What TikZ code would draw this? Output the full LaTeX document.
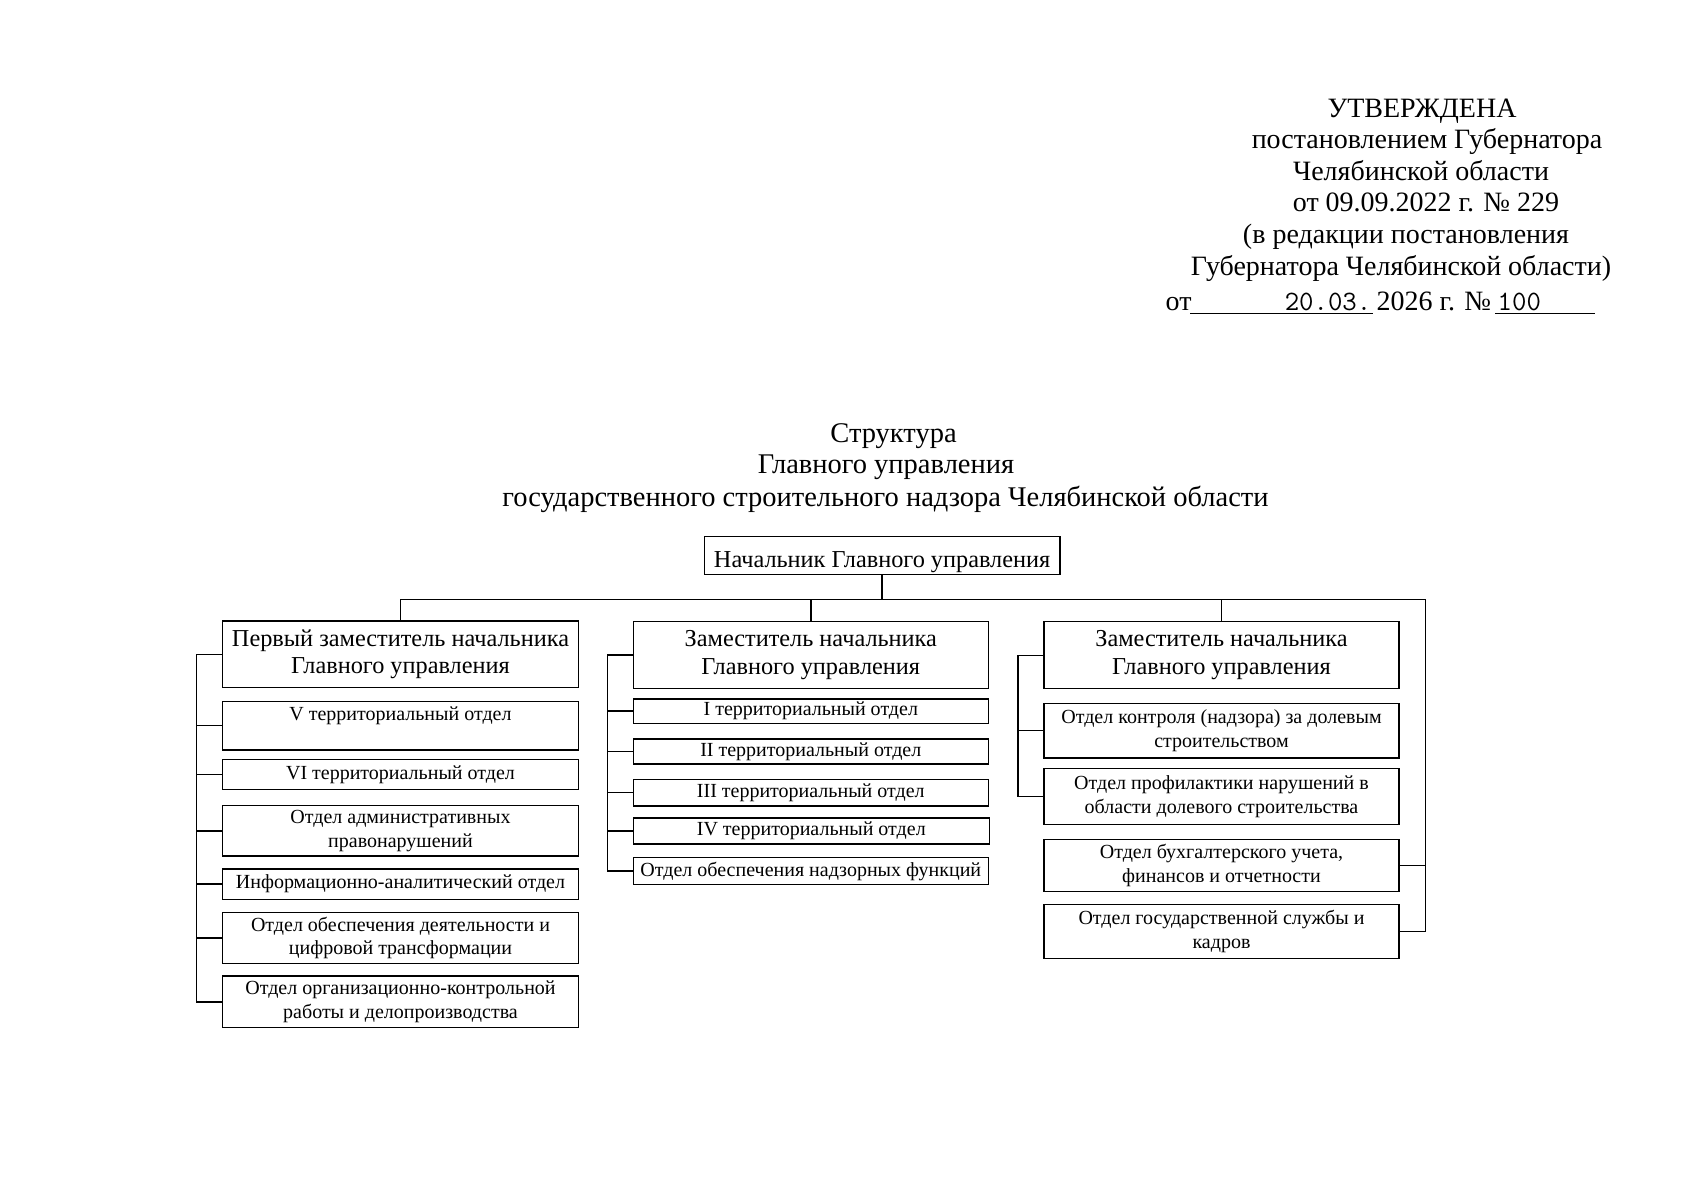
\documentclass[tikz,border=0pt]{standalone}
\usepackage{fontspec}
\setmainfont{Liberation Serif}
\newcommand\orgbox[7]{\node[box,#2,minimum width={(#5-#3)*0.5pt},minimum height={(#6-#4)*0.5pt}] (#1) at (#3,#4) {#7};}
\begin{document}
\begin{tikzpicture}[x=0.5pt,y=-0.5pt,line width=0.7pt,
  box/.style={draw,rectangle,inner sep=0pt,outer sep=0pt,align=center,anchor=north west},
  big/.style={font=\fontsize{12.15}{13.8}\selectfont},
  small/.style={font=\fontsize{10}{11.9}\selectfont},
  hdr/.style={font=\fontsize{14}{16}\selectfont,anchor=base,inner sep=0pt},
  tit/.style={font=\fontsize{14.25}{16}\selectfont,anchor=base,inner sep=0pt},
  mono/.style={inner sep=0pt,anchor=base west,font=\ttfamily\fontsize{14}{16}\selectfont}]
\useasboundingbox[fill=white] (0,0) rectangle (1698,1200);
% header
\node[hdr] (h1) at (1422,117) {УТВЕРЖДЕНА};
\node[hdr] (h2) at (1427,148.5) {постановлением Губернатора};
\node[hdr] (h3) at (1421,180) {Челябинской области};
\node[hdr] (h4) at (1426,211.5) {от 09.09.2022 г. № 229};
\node[hdr] (h5) at (1406,243.5) {(в редакции постановления};
\node[hdr] (h6) at (1401,275.5) {Губернатора Челябинской области)};
\node[hdr,anchor=base west] (h7a) at (1165,310) {от};
\node[mono,anchor=base east] (h7b) at (1372,310) {20.03.};
\node[hdr,anchor=base west] (h7c) at (1376,310) {2026 г. №};
\node[mono] (h7d) at (1497,310) {100};
\coordinate (u1a) at (1190,313.5); \coordinate (u1b) at (1372.7,313.5);
\coordinate (u2a) at (1495,313.5); \coordinate (u2b) at (1595,313.5);
\draw[line width=0.6pt] (u1a) -- (u1b);
\draw[line width=0.6pt] (u2a) -- (u2b);
% title
\node[tit] (t1) at (893.5,442) {Структура};
\node[tit] (t2) at (886,473.5) {Главного управления};
\node[tit] (t3) at (885.5,506.5) {государственного строительного надзора Челябинской области};
% chief
\orgbox{chief}{big,text height=12.3pt,text depth=0.5pt}{704.3}{536.7}{1060}{574.3}{Начальник Главного управления}
% deputies
\orgbox{d1}{big}{222.7}{621}{578.3}{687.7}{Первый заместитель начальника\\Главного управления}
\orgbox{d2}{big}{633.3}{621.3}{988.3}{688.7}{Заместитель начальника\\Главного управления}
\orgbox{d3}{big}{1044}{621.7}{1399}{688.7}{Заместитель начальника\\Главного управления}
% left column
\orgbox{v}{small}{222.7}{701.3}{578.3}{750}{V территориальный отдел\\\mbox{}}
\orgbox{vi}{small}{222.7}{759.3}{578.3}{789.3}{VI территориальный отдел}
\orgbox{adm}{small}{222.7}{805.7}{578.3}{856}{Отдел административных\\правонарушений}
\orgbox{inf}{small}{222.7}{869}{578.3}{899.3}{Информационно-аналитический отдел}
\orgbox{obd}{small}{222.7}{912.7}{578.3}{963.3}{Отдел обеспечения деятельности и\\цифровой трансформации}
\orgbox{org}{small}{222.7}{976}{578.3}{1027.7}{Отдел организационно-контрольной\\работы и делопроизводства}
% middle column
\orgbox{ti}{small}{633.3}{699}{988.3}{723.3}{I территориальный отдел}
\orgbox{tii}{small}{633.3}{739}{988.3}{764}{II территориальный отдел}
\orgbox{tiii}{small}{633.3}{779.3}{988.3}{806}{III территориальный отдел}
\orgbox{tiv}{small}{633.3}{818}{989.3}{844}{IV территориальный отдел}
\orgbox{nadz}{small}{633.3}{857.7}{988.3}{884.3}{Отдел обеспечения надзорных функций}
% right column
\orgbox{kon}{small}{1044}{703.3}{1399}{758}{Отдел контроля (надзора) за долевым\\строительством}
\orgbox{prof}{small}{1044}{768.7}{1399}{824.3}{Отдел профилактики нарушений в\\области долевого строительства}
\orgbox{buh}{small}{1044}{839.3}{1399}{891.7}{Отдел бухгалтерского учета,\\финансов и отчетности}
\orgbox{gos}{small}{1044}{904.3}{1399}{958.7}{Отдел государственной службы и\\кадров}
% connectors
\coordinate (jr) at (1425.7,599.3);
\draw (d1.north) |- (jr) |- (gos.east);
\draw (chief.south) -- (chief.south |- jr);
\draw (d2.north) -- (d2.north |- jr);
\draw (d3.north) -- (d3.north |- jr);
\draw (jr |- buh.east) -- (buh.east);
\draw (d1.west) -- ++(-26,0) coordinate (lb) |- (org.west);
\foreach \n in {v,vi,adm,inf,obd} \draw (lb |- \n.west) -- (\n.west);
\draw (d2.west) -- ++(-26,0) coordinate (mb) |- (nadz.west);
\foreach \n in {ti,tii,tiii,tiv} \draw (mb |- \n.west) -- (\n.west);
\draw (d3.west) -- ++(-26,0) coordinate (rb) |- (prof.west);
\draw (rb |- kon.west) -- (kon.west);
\end{tikzpicture}
\end{document}
